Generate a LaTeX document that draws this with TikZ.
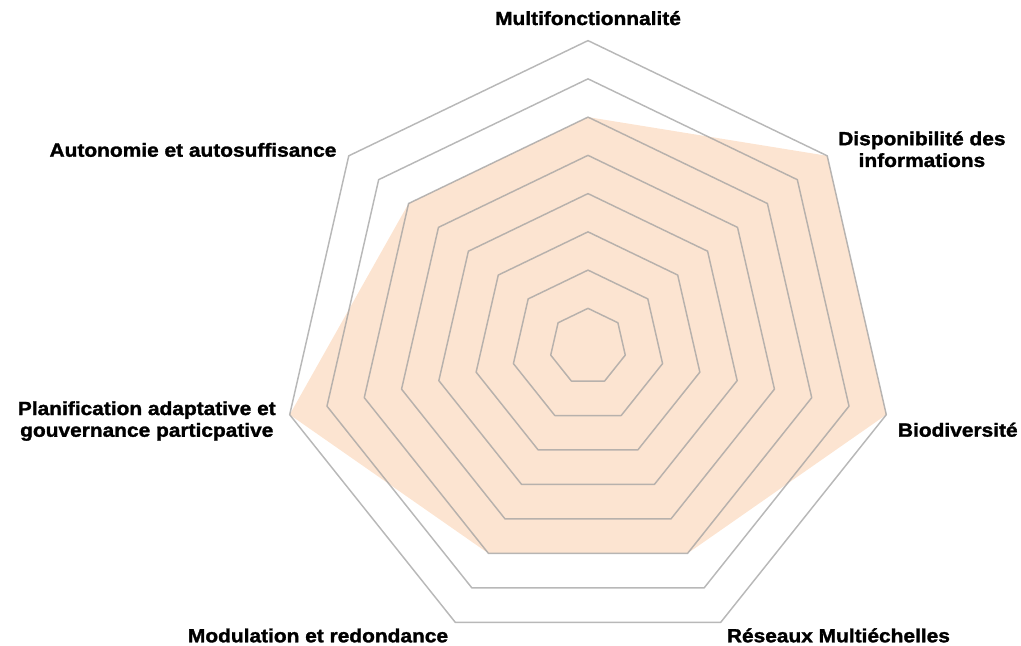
\documentclass[tikz,border=0pt]{standalone}
\usepackage{fontspec}
\newfontfamily\lblfont[FakeStretch=1.1,FakeBold=1.6]{Liberation Sans}
\usetikzlibrary{positioning}
\definecolor{peach}{HTML}{FCE4D1}
\definecolor{gridgray}{HTML}{A0A0A0}

\begin{document}
\begin{tikzpicture}[x=0.75pt,y=0.75pt,
    grid/.style={draw=gridgray,draw opacity=0.75,line width=1.1pt,line join=round},
    lbl/.style={font=\lblfont\bfseries\fontsize{14.25}{16.3}\selectfont,inner sep=0pt,align=center}]
  \useasboundingbox (-588,-299.4) rectangle (433,346.6);
  \foreach \k in {0,...,6}
    \coordinate (t\k) at ({90-\k*360/7}:306);
  \foreach \k/\v in {0/6,1/8,2/8,3/6,4/6,5/8,6/6}
    \coordinate (d\k) at ({90-\k*360/7}:\v*38.25);
  \fill[peach] (d0) -- (d1) -- (d2) -- (d3) -- (d4) -- (d5) -- (d6) -- cycle;
  \foreach \r in {1,...,8}
    \draw[grid] (90:\r*38.25) \foreach \k in {1,...,6}{ -- ({90-\k*360/7}:\r*38.25)} -- cycle;
  \node[lbl,anchor=base] (multi) at ([shift={(0,15.6)}]t0) {Multifonctionnalité};
  \node[lbl,anchor=north west] (dispo) at ([shift={(10.8,24.8)}]t1) {Disponibilité des\\informations};
  \node[lbl,anchor=base west] (biodiv) at ([shift={(11.4,-22)}]t2) {Biodiversité};
  \node[lbl,anchor=base west] (reseaux) at ([shift={(5.9,-20)}]t3) {Réseaux Multiéchelles};
  \node[lbl,anchor=base east] (modul) at ([shift={(-6.9,-20)}]t4) {Modulation et redondance};
  \node[lbl,anchor=north east] (planif) at ([shift={(-13.7,13.7)}]t5) {Planification adaptative et\\gouvernance particpative};
  \node[lbl,anchor=base east] (autonom) at ([shift={(-12.1,-0.9)}]t6) {Autonomie et autosuffisance};
\end{tikzpicture}
\end{document}
